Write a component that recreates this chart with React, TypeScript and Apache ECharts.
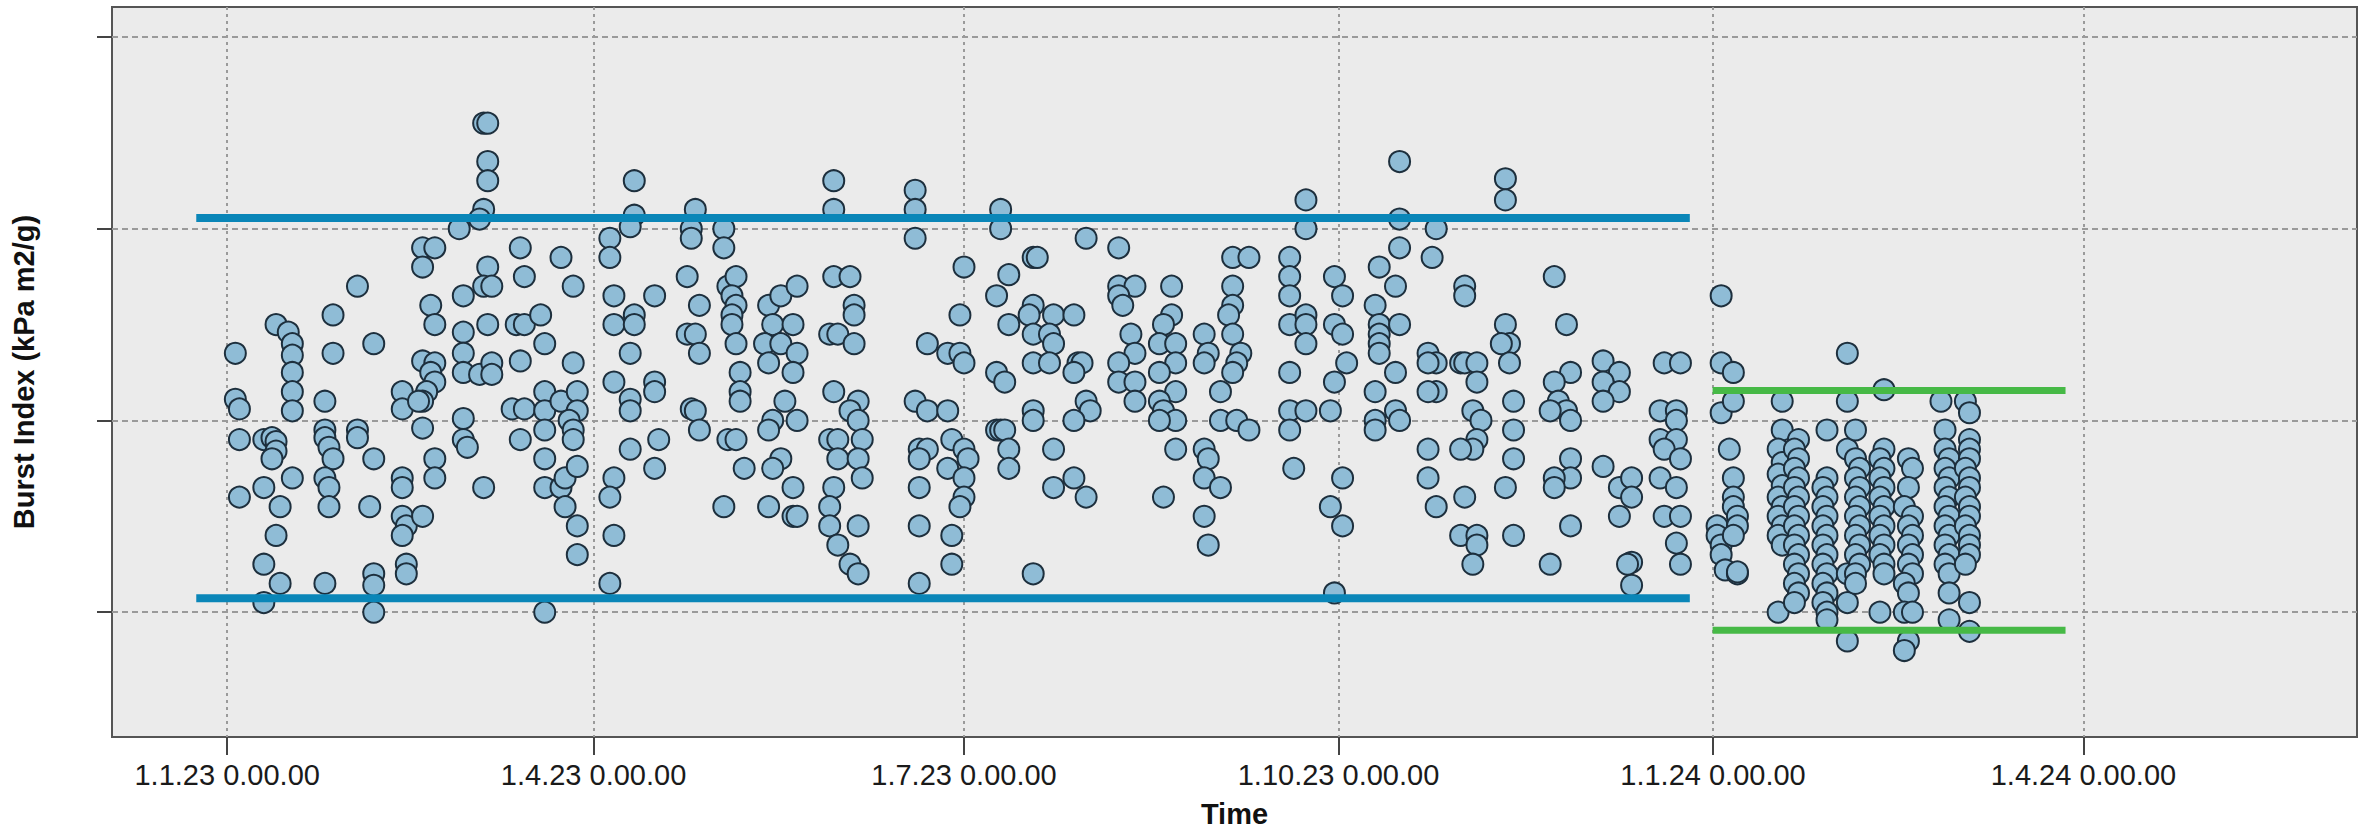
import React, { useEffect, useRef } from "react";
import * as echarts from "echarts";

// x-axis ticks (days since 1.1.2023) and their labels
const xTickDays = [0, 90, 181, 273, 365, 456];
const xTickLabels = [
  "1.1.23 0.00.00",
  "1.4.23 0.00.00",
  "1.7.23 0.00.00",
  "1.10.23 0.00.00",
  "1.1.24 0.00.00",
  "1.4.24 0.00.00",
];
const xRangeDays = [-28.3, 523.2];
const yGridValues = [1, 2, 3, 4];
const yRange = [0.349, 4.156];

// control limits: [startDay, endDay, upper, lower]
const limits2023 = [-7.6, 359.3, 3.055, 1.073];
const limits2024 = [364.9, 451.6, 2.156, 0.906];

// measurements: [days since 1.1.2023, burst index]
const q1_2023 = [
  [2, 2.35], [2, 2.11], [3, 2.06], [3, 1.9], [3, 1.6],
  [9, 1.9], [11, 1.91], [12, 1.89], [12, 1.84], [11, 1.8],
  [9, 1.65], [13, 1.55], [12, 1.4], [9, 1.25], [13, 1.15], [9, 1.05],
  [12, 2.5], [15, 2.46], [16, 2.4], [16, 2.34], [16, 2.25], [16, 2.15], [16, 2.05],
  [16, 1.7],
  [24, 2.1], [24, 1.95], [24, 1.91], [25, 1.86], [26, 1.8],
  [24, 1.7], [25, 1.65], [25, 1.55], [24, 1.15],
  [26, 2.55], [26, 2.35], [32, 2.7], [32, 1.95], [32, 1.91],
  [36, 2.4], [36, 1.8], [35, 1.55], [36, 1.2], [36, 1.14], [36, 1.0],
  [43, 2.15], [43, 2.06], [43, 1.7], [43, 1.65],
  [43, 1.5], [44, 1.45], [43, 1.4], [48, 1.5], [44, 1.25], [44, 1.2],
  [48, 2.9], [51, 2.9], [48, 2.8], [50, 2.6], [51, 2.5],
  [48, 2.31], [51, 2.3], [50, 2.25], [51, 2.2], [49, 2.15], [48, 2.1], [47, 2.1],
  [48, 1.96], [51, 1.8], [51, 1.7],
  [58, 2.65], [57, 3.0], [58, 2.46], [58, 2.35], [58, 2.25], [62, 2.24], [65, 2.3], [65, 2.24],
  [58, 2.01], [58, 1.9], [59, 1.86], [63, 1.65],
  [63, 3.55], [64, 3.55], [64, 3.35], [64, 3.25], [63, 3.1], [62, 3.05],
  [64, 2.8], [63, 2.7], [65, 2.7], [64, 2.5],
  [72, 2.9], [73, 2.75], [71, 2.5], [73, 2.5], [77, 2.55], [78, 2.4], [72, 2.31],
  [70, 2.06], [73, 2.06], [78, 2.15], [78, 2.05], [78, 1.95], [72, 1.9], [78, 1.8],
  [78, 1.65], [82, 1.65], [83, 1.7], [83, 1.55], [78, 1.0],
  [82, 2.85], [85, 2.7], [85, 2.3],
  [82, 2.1], [86, 2.15], [86, 2.05], [84, 2.0], [85, 1.95], [85, 1.9],
  [86, 1.76], [86, 1.45], [86, 1.3],
];

const q2_2023 = [
  [94, 2.95], [94, 2.85], [95, 2.65], [95, 2.5], [95, 2.2], [95, 1.7], [94, 1.6], [95, 1.4], [94, 1.15],
  [100, 3.25], [100, 3.07], [99, 3.01], [100, 2.55], [100, 2.5], [99, 2.35], [99, 2.11], [99, 2.05], [99, 1.85],
  [105, 2.65], [105, 2.2], [105, 2.15], [106, 1.9], [105, 1.75],
  [115, 3.1], [114, 3.0], [114, 2.95], [113, 2.75], [116, 2.6], [113, 2.45], [115, 2.45], [116, 2.35],
  [114, 2.06], [115, 2.05], [116, 1.95],
  [122, 3.0], [122, 2.9], [123, 2.7], [125, 2.75], [124, 2.65], [125, 2.6], [124, 2.55], [124, 2.5],
  [125, 2.4], [126, 2.25], [126, 2.15], [126, 2.1], [123, 1.9], [125, 1.9], [127, 1.75], [122, 1.55],
  [133, 2.6], [136, 2.65], [140, 2.7], [134, 2.5], [139, 2.5], [132, 2.4], [136, 2.4], [140, 2.35],
  [133, 2.3], [139, 2.25], [137, 2.1], [134, 2.0], [140, 2.0], [133, 1.95], [136, 1.8], [134, 1.75],
  [139, 1.65], [133, 1.55], [139, 1.5], [140, 1.5],
  [149, 3.25], [149, 3.1], [149, 2.75], [153, 2.75], [154, 2.6], [154, 2.55], [148, 2.45], [150, 2.45],
  [154, 2.4], [149, 2.15], [155, 2.1], [153, 2.05], [155, 2.0], [148, 1.9], [150, 1.9], [156, 1.9],
  [150, 1.8], [155, 1.8], [156, 1.7], [149, 1.65], [148, 1.55], [148, 1.45], [155, 1.45], [150, 1.35],
  [153, 1.25], [155, 1.2],
  [169, 3.2], [169, 3.1], [169, 2.95], [169, 2.1], [172, 2.4], [172, 2.05], [170, 1.85], [172, 1.85],
  [170, 1.8], [170, 1.65], [170, 1.45], [170, 1.15],
  [181, 2.8], [180, 2.55], [177, 2.35], [180, 2.35], [181, 2.3], [177, 2.05], [178, 1.9], [181, 1.85],
  [182, 1.8], [177, 1.75], [181, 1.7], [181, 1.6], [180, 1.55], [178, 1.4], [178, 1.25],
];

const q3_2023 = [
  [190, 3.1], [190, 3.0], [192, 2.76], [189, 2.65], [192, 2.5], [189, 2.25], [191, 2.2],
  [189, 1.95], [190, 1.95], [191, 1.95], [192, 1.85], [192, 1.75],
  [198, 2.85], [199, 2.85], [198, 2.6], [197, 2.55], [203, 2.55], [198, 2.45], [202, 2.45], [203, 2.4],
  [198, 2.3], [202, 2.3], [198, 2.05], [198, 2.0], [203, 1.85], [203, 1.65], [198, 1.2],
  [211, 2.95], [208, 2.55], [209, 2.3], [210, 2.3], [208, 2.25], [211, 2.1], [212, 2.05], [208, 2.0],
  [208, 1.7], [211, 1.6],
  [219, 2.9], [219, 2.7], [223, 2.7], [219, 2.65], [220, 2.6], [222, 2.45], [223, 2.35], [219, 2.3],
  [219, 2.2], [223, 2.2], [223, 2.1],
  [232, 2.7], [232, 2.55], [230, 2.5], [229, 2.4], [233, 2.4], [233, 2.3], [229, 2.25], [233, 2.15],
  [229, 2.1], [230, 2.05], [233, 2.0], [229, 2.0], [233, 1.85], [230, 1.6],
  [240, 2.45], [241, 2.35], [240, 2.3], [244, 2.15], [244, 2.0], [240, 1.85], [241, 1.8], [240, 1.7],
  [244, 1.65], [240, 1.5], [241, 1.35],
  [247, 2.85], [251, 2.85], [247, 2.7], [247, 2.6], [246, 2.55], [247, 2.45], [249, 2.35], [248, 2.3],
  [247, 2.25], [248, 2.0], [251, 1.95],
  [261, 2.85], [261, 2.75], [261, 2.65], [261, 2.5], [265, 2.55], [265, 2.5], [265, 2.4], [261, 2.25],
  [261, 2.05], [265, 2.05], [261, 1.95], [262, 1.75], [265, 3.15], [265, 3.0],
  [272, 2.75], [274, 2.65], [272, 2.5], [274, 2.45], [275, 2.3], [272, 2.2], [271, 2.05], [274, 1.7],
  [271, 1.55], [274, 1.45], [272, 1.1],
];

const q4_2023 = [
  [288, 3.35], [288, 3.05], [288, 2.9], [283, 2.8], [287, 2.7], [282, 2.6], [283, 2.5], [288, 2.5],
  [283, 2.45], [283, 2.4], [283, 2.35], [287, 2.25], [282, 2.15], [287, 2.05], [288, 2.0], [282, 2.0], [282, 1.95],
  [297, 3.0], [296, 2.85], [304, 2.7], [304, 2.65], [295, 2.35], [297, 2.3], [295, 2.3], [297, 2.15],
  [295, 2.15], [295, 1.85], [295, 1.7], [297, 1.55],
  [303, 2.3], [304, 2.3], [307, 2.3], [307, 2.2], [306, 2.05], [308, 2.0], [307, 1.9], [306, 1.85],
  [303, 1.85], [304, 1.6], [303, 1.4], [307, 1.4], [307, 1.35], [306, 1.25],
  [314, 3.26], [314, 3.15], [314, 2.5], [315, 2.4], [313, 2.4], [315, 2.3], [316, 2.1], [316, 1.95],
  [316, 1.8], [314, 1.65], [316, 1.4],
  [326, 2.75], [329, 2.5], [330, 2.25], [326, 2.2], [327, 2.1], [329, 2.05], [330, 2.0], [325, 2.05],
  [330, 1.8], [330, 1.7], [326, 1.7], [326, 1.65], [330, 1.45], [325, 1.25],
  [338, 2.31], [342, 2.25], [338, 2.2], [342, 2.15], [338, 2.1], [338, 1.76], [342, 1.65], [345, 1.7],
  [345, 1.6], [342, 1.5], [345, 1.26], [344, 1.25], [345, 1.14],
  [353, 2.3], [357, 2.3], [352, 2.05], [356, 2.05], [356, 2.0], [352, 1.9], [356, 1.9], [353, 1.85],
  [357, 1.8], [352, 1.7], [356, 1.65], [353, 1.5], [357, 1.5], [356, 1.36], [357, 1.25],
];

const q1_2024 = [
  [367, 2.65], [367, 2.3], [367, 2.04], [366, 1.45], [366, 1.4], [367, 1.35], [367, 1.3], [368, 1.22],
  [370, 2.25], [370, 2.1], [369, 1.85], [370, 1.7], [370, 1.6], [370, 1.55], [371, 1.5], [371, 1.45],
  [370, 1.4], [371, 1.2], [371, 1.21],
  [382, 2.1], [382, 1.95], [381, 1.85], [382, 1.78], [381, 1.72], [382, 1.66], [381, 1.6], [382, 1.55],
  [381, 1.5], [382, 1.45], [381, 1.4], [382, 1.35], [381, 1.0],
  [386, 1.9], [385, 1.85], [386, 1.8], [385, 1.75], [386, 1.7], [385, 1.65], [386, 1.6], [385, 1.55],
  [386, 1.5], [385, 1.45], [386, 1.4], [385, 1.35], [386, 1.3], [385, 1.25], [386, 1.2], [385, 1.15],
  [386, 1.1], [385, 1.05],
  [393, 1.95], [393, 1.7], [392, 1.65], [393, 1.6], [392, 1.55], [393, 1.5], [392, 1.45], [393, 1.4],
  [392, 1.35], [393, 1.3], [392, 1.25], [393, 1.2], [392, 1.15], [393, 1.1], [392, 1.05], [393, 1.0], [393, 0.96],
  [398, 2.35], [398, 2.1], [398, 1.85], [398, 1.2], [398, 1.05], [398, 0.85],
  [400, 1.95], [400, 1.8], [401, 1.75], [400, 1.7], [401, 1.65], [400, 1.6], [401, 1.55], [400, 1.5],
  [401, 1.45], [400, 1.4], [401, 1.35], [400, 1.3], [401, 1.25], [400, 1.2], [400, 1.15],
  [407, 2.16], [407, 1.85], [406, 1.8], [407, 1.75], [406, 1.7], [407, 1.65], [406, 1.6], [407, 1.55],
  [406, 1.5], [407, 1.45], [406, 1.4], [407, 1.35], [406, 1.3], [407, 1.25], [407, 1.2], [406, 1.0],
  [413, 1.8], [414, 1.75], [413, 1.65], [412, 1.55], [414, 1.5], [413, 1.45], [414, 1.4], [413, 1.35],
  [414, 1.3], [413, 1.25], [414, 1.2], [412, 1.15], [413, 1.1], [412, 1.0], [414, 1.0], [413, 0.85], [412, 0.8],
  [421, 2.1], [422, 1.95], [422, 1.85], [423, 1.8], [422, 1.75], [423, 1.7], [422, 1.65], [423, 1.6],
  [422, 1.55], [423, 1.5], [422, 1.45], [423, 1.4], [422, 1.35], [423, 1.3], [422, 1.25], [423, 1.2],
  [423, 1.1], [423, 0.96],
  [427, 2.1], [428, 2.04], [428, 1.9], [428, 1.85], [428, 1.8], [427, 1.75], [428, 1.7], [428, 1.65],
  [427, 1.6], [428, 1.55], [428, 1.5], [427, 1.45], [428, 1.4], [428, 1.35], [428, 1.3], [427, 1.25],
  [428, 1.05], [428, 0.9],
];

const FONT = "'Liberation Sans', Arial, Helvetica, sans-serif";

export default function App() {
  const ref = useRef<HTMLDivElement>(null);

  useEffect(() => {
    if (!ref.current) return;
    const chart = echarts.init(ref.current, undefined, { renderer: "svg" });
    const points = [...q1_2023, ...q2_2023, ...q3_2023, ...q4_2023, ...q1_2024];
    const limitLine = (lim: number[], which: number, color: string, width: number) => ({
      type: "line",
      data: [
        [lim[0], lim[which]],
        [lim[1], lim[which]],
      ],
      symbol: "none",
      silent: true,
      z: 5,
      lineStyle: { color, width, cap: "butt" },
    });

    chart.setOption({
      animation: false,
      backgroundColor: "#ffffff",
      grid: {
        left: 112,
        right: 13,
        top: 7,
        bottom: 95,
        show: true,
        backgroundColor: "#ebebeb",
        borderColor: "#555555",
        borderWidth: 2,
        outerBoundsMode: "none",
      },
      xAxis: {
        type: "value",
        min: xRangeDays[0],
        max: xRangeDays[1],
        name: "Time",
        nameLocation: "middle",
        nameGap: 62,
        nameTextStyle: { fontFamily: FONT, fontSize: 29, fontWeight: "bold", color: "#111" },
        axisLine: { show: false, onZero: false },
        axisTick: {
          show: true,
          length: 18,
          customValues: xTickDays,
          lineStyle: { color: "#444", width: 2 },
        },
        axisLabel: {
          show: true,
          margin: 23,
          customValues: xTickDays,
          fontFamily: FONT,
          fontSize: 29,
          color: "#1a1a1a",
          formatter: (val: number) => {
            const i = xTickDays.indexOf(val);
            return i >= 0 ? xTickLabels[i] : "";
          },
        },
        splitLine: {
          show: true,
          lineStyle: { color: "#9a9a9a", width: 2, type: [3, 4] },
        },
      },
      yAxis: {
        type: "value",
        min: yRange[0],
        max: yRange[1],
        name: "Burst Index (kPa m2/g)",
        nameLocation: "middle",
        nameGap: 74,
        nameTextStyle: { fontFamily: FONT, fontSize: 29, fontWeight: "bold", color: "#111" },
        axisLine: { show: false, onZero: false },
        axisTick: {
          show: true,
          length: 15,
          customValues: yGridValues,
          lineStyle: { color: "#444", width: 2 },
        },
        axisLabel: { show: false, customValues: yGridValues },
        splitLine: {
          show: true,
          lineStyle: { color: "#9a9a9a", width: 2, type: [6, 4] },
        },
      },
      series: [
        {
          type: "scatter",
          data: points,
          symbol: "circle",
          symbolSize: 21,
          z: 3,
          itemStyle: { color: "#8fbcd6", borderColor: "#1d2f3d", borderWidth: 2, opacity: 1 },
        },
        limitLine(limits2023, 2, "#0a86b8", 8),
        limitLine(limits2023, 3, "#0a86b8", 8),
        limitLine(limits2024, 2, "#46b946", 7),
        limitLine(limits2024, 3, "#46b946", 7),
      ],
    });
    return () => chart.dispose();
  }, []);

  return (
    <div
      ref={ref}
      style={{ position: "fixed", left: 0, top: 0, width: 2370, height: 832 }}
    />
  );
}
